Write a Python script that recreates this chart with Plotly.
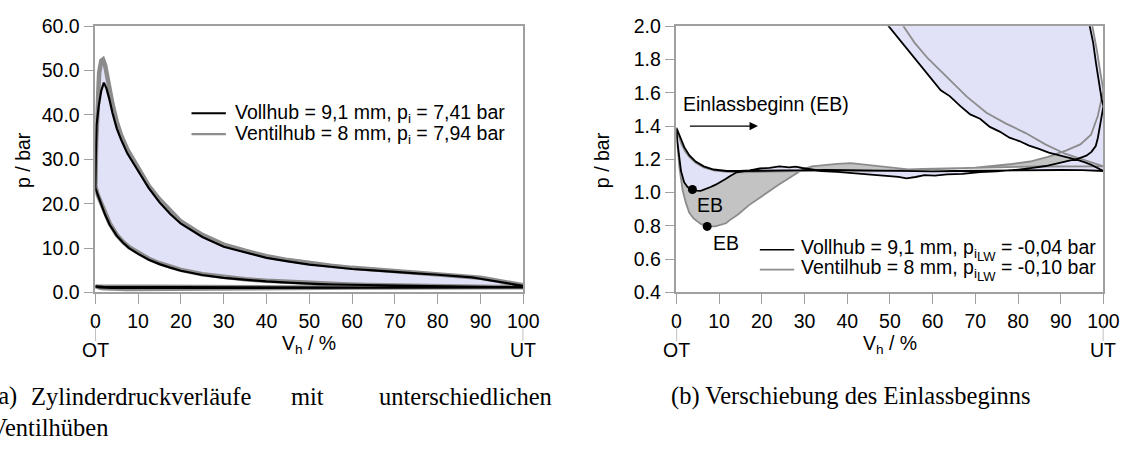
import plotly.graph_objects as go

# ---------------- cycle data (V_h in %, p in bar) ----------------
# Vollhub = 9,1 mm
voll_comp_v = [0, 0.5, 1.3, 2.3, 3.4, 5, 6.5, 7.9, 10, 12.5, 15, 17.5, 20, 25, 30, 35, 40, 45, 49.7,
               52.7, 55.8, 58.9, 61.9, 64, 66.5, 68.8, 71.1, 73.4, 75.7, 78, 80.3, 82.6, 84.9, 87.2,
               89.5, 91.8, 94.1, 95.7, 97.2, 98.6, 100]
voll_comp_p = [23.5, 21.8, 20.0, 17.5, 15.2, 12.8, 11.2, 10.0, 8.7, 7.4, 6.4, 5.6, 4.9, 3.95, 3.3, 2.85,
               2.5, 2.22, 2.0, 1.9, 1.806, 1.71, 1.615, 1.58, 1.52, 1.47, 1.444, 1.395, 1.367, 1.33,
               1.31, 1.283, 1.263, 1.24, 1.225, 1.21, 1.196, 1.182, 1.167, 1.15, 1.13]
voll_exp_v = [0, 0.1, 0.3, 0.8, 1.4, 2.0, 2.6, 3.3, 4.0, 5.0, 6.0, 7.5, 10, 12.5, 15, 17.5, 20, 25, 30,
              35, 40, 45, 50, 55, 60, 65, 70, 75, 80, 85, 88, 90, 92, 94, 95.5, 96.8, 97.6, 98.3,
              99.1, 99.6, 100]
voll_exp_p = [23.5, 30, 37.7, 42, 45.5, 47.3, 46.0, 43.5, 40.5, 37.0, 34.5, 31.3, 27.3, 23.5, 20.3,
              17.7, 15.5, 12.5, 10.3, 9.0, 7.8, 7.0, 6.3, 5.8, 5.3, 5.0, 4.6, 4.3, 4.0, 3.7, 3.4, 3.1,
              2.75, 2.4, 2.15, 2.0, 1.9, 1.77, 1.63, 1.56, 1.52]
voll_exh_v = [0, 0.3, 1.07, 1.84, 3.0, 4.5, 6.4, 8.7, 11.8, 14.9, 17.2, 19.5, 21.8, 24.1, 26.4, 27.9,
              29.5, 31, 34, 37.6, 40.5, 43, 45, 47.5, 49.7, 52, 53.9, 56, 58.1, 60.5, 63.4, 67, 71.1,
              75, 78.8, 83.4, 86.5, 89.5, 92, 94.1, 96, 97.2, 98.2, 98.7, 99.3, 99.6, 100]
voll_exh_p = [1.39, 1.377, 1.32, 1.273, 1.225, 1.187, 1.158, 1.139, 1.13, 1.13, 1.133, 1.145, 1.149,
              1.158, 1.152, 1.156, 1.148, 1.139, 1.13, 1.125, 1.12, 1.114, 1.11, 1.106, 1.10, 1.095,
              1.086, 1.094, 1.105, 1.102, 1.11, 1.113, 1.124, 1.128, 1.135, 1.149, 1.16, 1.177,
              1.192, 1.205, 1.222, 1.245, 1.28, 1.33, 1.40, 1.463, 1.52]
voll_int_v = [0, 0.2, 0.46, 0.75, 1.07, 1.8, 2.6, 3.75, 4.7, 5.7, 6.8, 8.0, 9.2, 10.3, 11.5, 12.6, 14.1,
              16, 18, 20, 25, 30, 35, 40, 45, 50, 55, 60, 65, 70, 75, 80, 85, 90, 95, 100]
voll_int_p = [1.387, 1.31, 1.244, 1.18, 1.13, 1.063, 1.034, 1.019, 1.012, 1.011, 1.02, 1.034, 1.048,
              1.063, 1.082, 1.10, 1.122, 1.13, 1.131, 1.132, 1.135, 1.138, 1.137, 1.135, 1.133, 1.13,
              1.128, 1.128, 1.13, 1.132, 1.133, 1.134, 1.135, 1.136, 1.135, 1.13]

# Ventilhub = 8 mm
vent_comp_v = [0, 0.5, 1.3, 2.3, 3.4, 5, 6.5, 7.9, 10, 12.5, 15, 17.5, 20, 25, 30, 35, 40, 45, 50,
               53.1, 55.8, 58.9, 63.4, 68.0, 72.6, 77.2, 81.8, 86.4, 91.0, 95.6, 100]
vent_comp_p = [24.0, 22.2, 20.3, 17.8, 15.5, 13.0, 11.4, 10.2, 8.9, 7.6, 6.6, 5.8, 5.1, 4.1, 3.45,
               2.98, 2.62, 2.35, 2.12, 2.0, 1.90, 1.806, 1.69, 1.577, 1.48, 1.415, 1.358, 1.29, 1.234,
               1.196, 1.158]
vent_exp_v = [0, 0.2, 0.5, 0.9, 1.4, 1.8, 2.3, 3.0, 4.0, 5.0, 6.0, 7.5, 10, 12.5, 15, 17.5, 20, 25,
              30, 35, 40, 45, 50, 55, 60, 65, 70, 75, 80, 85, 88, 90, 92, 94, 96, 97.5, 98.5, 99.3, 100]
vent_exp_p = [24.0, 34, 43, 49.5, 52.2, 52.5, 51.2, 47.5, 42.5, 38.5, 35.5, 32.2, 28.0, 24.0, 21.0,
              18.4, 16.0, 13.0, 10.8, 9.4, 8.2, 7.3, 6.6, 6.05, 5.55, 5.2, 4.85, 4.5, 4.2, 3.9, 3.6,
              3.3, 3.0, 2.6, 2.2, 2.0, 1.85, 1.72, 1.62]
vent_exh_v = [0, 0.5, 1.2, 2, 3, 4.5, 6.5, 9, 12, 15, 20, 25, 30, 35, 40, 45, 50, 55, 60, 65, 70,
              74.4, 78.6, 82.8, 87, 91.2, 94.6, 97.1, 98.7, 100]
vent_exh_p = [1.38, 1.34, 1.29, 1.25, 1.215, 1.18, 1.15, 1.132, 1.125, 1.122, 1.125, 1.128, 1.13,
              1.132, 1.13, 1.128, 1.13, 1.135, 1.14, 1.145, 1.15, 1.16, 1.172, 1.187, 1.215, 1.253,
              1.29, 1.348, 1.462, 1.614]
vent_int_v = [0, 0.7, 1.45, 2.2, 3.0, 4.0, 5.7, 7.2, 9.1, 11.6, 12.5, 14.5, 17, 19.5, 21.7, 24.1,
              26.5, 29.3, 31.7, 34.2, 37.6, 40.9, 44.3, 47.6, 51, 54.3, 57.7, 61.9, 66, 70, 75, 80,
              85, 90, 95, 100]
vent_int_p = [1.36, 1.15, 1.015, 0.94, 0.88, 0.845, 0.812, 0.797, 0.797, 0.816, 0.835, 0.87, 0.925,
              0.97, 1.01, 1.05, 1.09, 1.135, 1.158, 1.166, 1.173, 1.177, 1.168, 1.155, 1.147, 1.14,
              1.142, 1.145, 1.148, 1.15, 1.152, 1.155, 1.157, 1.158, 1.158, 1.158]

# Einlassbeginn (intake valve opening) points
eb_v = [3.75, 7.2]
eb_p = [1.019, 0.797]

# axis ticks
x_ticks = [0, 10, 20, 30, 40, 50, 60, 70, 80, 90, 100]
y_ticks_a = [0, 10, 20, 30, 40, 50, 60]
y_ticks_b = [0.4, 0.6, 0.8, 1.0, 1.2, 1.4, 1.6, 1.8, 2.0]

# ---------------- styling ----------------
W, H = 1142, 449
SANS = "Liberation Sans, Arial, sans-serif"
SERIF = "Liberation Serif, Times New Roman, serif"
LAV = "#e1e1f8"
GRAYFILL = "#c3c3c3"
GRAYLINE = "#8c8c8c"
AXCOL = "#a0a0a0"
FS = 19.5      # label text size

# plot frames in pixels
A_L, A_R = 92, 528
B_L, B_R = 684, 1119
P_T, P_B = 16, 296


def px_x(px):
    return px / W


def px_y(py):
    return (H - py) / H


def loop(v_a, p_a, v_b, p_b):
    """first branch run from 100 % back to 0 %, second branch from 0 % to 100 %"""
    return list(reversed(v_a)) + list(v_b), list(reversed(p_a)) + list(p_b)


fig = go.Figure()

panels = [("x", "y", 4.5, 2.2), ("x2", "y2", 1.8, 1.8)]
for xa, ya, gw, bw in panels:
    vp_v, vp_p = loop(vent_exh_v, vent_exh_p, vent_int_v, vent_int_p)
    bp_v, bp_p = loop(voll_exh_v, voll_exh_p, voll_int_v, voll_int_p)
    vh_v, vh_p = loop(vent_comp_v, vent_comp_p, vent_exp_v, vent_exp_p)
    bh_v, bh_p = loop(voll_comp_v, voll_comp_p, voll_exp_v, voll_exp_p)
    # gas exchange loops
    fig.add_trace(go.Scatter(x=vp_v, y=vp_p, xaxis=xa, yaxis=ya, mode="none", fill="toself",
                             fillcolor=GRAYFILL, showlegend=False, hoverinfo="skip"))
    fig.add_trace(go.Scatter(x=bp_v, y=bp_p, xaxis=xa, yaxis=ya, mode="none", fill="toself",
                             fillcolor=LAV, showlegend=False, hoverinfo="skip"))
    # high pressure loops
    fig.add_trace(go.Scatter(x=vh_v, y=vh_p, xaxis=xa, yaxis=ya, mode="none", fill="toself",
                             fillcolor=LAV, showlegend=False, hoverinfo="skip"))
    fig.add_trace(go.Scatter(x=bh_v, y=bh_p, xaxis=xa, yaxis=ya, mode="none", fill="toself",
                             fillcolor=LAV, showlegend=False, hoverinfo="skip"))
    # full cycle outlines
    for cv, cp, ev, ep, xv, xp, iv, ip, col, w in [
        (vent_comp_v, vent_comp_p, vent_exp_v, vent_exp_p, vent_exh_v, vent_exh_p,
         vent_int_v, vent_int_p, GRAYLINE, gw),
        (voll_comp_v, voll_comp_p, voll_exp_v, voll_exp_p, voll_exh_v, voll_exh_p,
         voll_int_v, voll_int_p, "black", bw),
    ]:
        hv, hp = loop(cv, cp, ev, ep)
        gv, gp = loop(xv, xp, iv, ip)
        fig.add_trace(go.Scatter(x=hv + gv, y=hp + gp, xaxis=xa, yaxis=ya, mode="lines",
                                 line=dict(color=col, width=w), showlegend=False,
                                 hoverinfo="skip"))

fig.add_trace(go.Scatter(x=eb_v, y=eb_p, xaxis="x2", yaxis="y2", mode="markers",
                         marker=dict(color="black", size=9), showlegend=False, hoverinfo="skip"))

axis_style = dict(showline=True, mirror=True, linecolor=AXCOL, linewidth=1.5, ticks="outside",
                  ticklen=10, tickcolor=AXCOL, tickwidth=1.3, showgrid=False, zeroline=False,
                  tickfont=dict(family=SANS, size=FS, color="black"))

ydom = [px_y(P_B), px_y(P_T)]
fig.update_layout(
    width=W, height=H, margin=dict(l=0, r=0, t=0, b=0),
    paper_bgcolor="white", plot_bgcolor="white",
    xaxis=dict(domain=[px_x(A_L), px_x(A_R)], range=[0, 100], tickvals=x_ticks, anchor="y",
               **axis_style),
    yaxis=dict(domain=ydom, range=[0, 60], tickvals=y_ticks_a, tickformat=".1f", anchor="x",
               **axis_style),
    xaxis2=dict(domain=[px_x(B_L), px_x(B_R)], range=[0, 100], tickvals=x_ticks, anchor="y2",
                **axis_style),
    yaxis2=dict(domain=ydom, range=[0.4, 2.0], tickvals=y_ticks_b, tickformat=".1f", anchor="x2",
                **axis_style),
)

ann = []
shapes = []


def text(x, y, s, size=FS, family=SANS, xanchor="center", yanchor="middle", xref="paper",
         yref="paper", angle=0):
    ann.append(dict(x=x, y=y, text=s, xref=xref, yref=yref, showarrow=False, xanchor=xanchor,
                    yanchor=yanchor, textangle=angle, borderpad=0,
                    font=dict(family=family, size=size, color="black")))


for xa in ["x", "x2"]:
    # OT / UT markers below the axis
    for xv, lab in [(0, "OT"), (100, "UT")]:
        shapes.append(dict(type="line", xref=xa, yref="paper", x0=xv, x1=xv, y0=px_y(347),
                           y1=px_y(330), line=dict(color=AXCOL, width=1.3)))
        text(xv, px_y(356), lab, xref=xa)
    text(50, px_y(351), "V<sub>h</sub> / %", xref=xa)

text(px_x(19), px_y(157), "p / bar", angle=-90)
text(px_x(608), px_y(157), "p / bar", angle=-90)

# legend (a)
for yy, col, lab in [(107.5, "black", "Vollhub = 9,1 mm, p<sub>i</sub> = 7,41 bar"),
                     (129.5, GRAYLINE, "Ventilhub = 8 mm, p<sub>i</sub> = 7,94 bar")]:
    shapes.append(dict(type="line", xref="paper", yref="paper", x0=px_x(190), x1=px_x(225),
                       y0=px_y(yy), y1=px_y(yy), line=dict(color=col, width=2.2)))
    text(px_x(233), px_y(yy), lab, xanchor="left")

# legend (b)
LW = "p<sub>i<sub><span style='font-size:13px'>LW</span></sub></sub>"
for yy, col, lab in [(251, "black", "Vollhub = 9,1 mm, " + LW + " = -0,04 bar"),
                     (272, GRAYLINE, "Ventilhub = 8 mm, " + LW + " = -0,10 bar")]:
    shapes.append(dict(type="line", xref="paper", yref="paper", x0=px_x(769), x1=px_x(804),
                       y0=px_y(yy), y1=px_y(yy), line=dict(color=col, width=1.6)))
    text(px_x(810), px_y(yy), lab, xanchor="left")

# Einlassbeginn annotations
text(1.4, 1.53, "Einlassbeginn (EB)", xref="x2", yref="y2", xanchor="left")
ann.append(dict(x=19.1, y=1.4, ax=2.8, ay=1.4, xref="x2", yref="y2", axref="x2", ayref="y2",
                showarrow=True, arrowhead=2, arrowsize=1.2, arrowwidth=1.4, arrowcolor="black",
                text=""))
text(7.8, 0.926, "EB", xref="x2", yref="y2")
text(11.7, 0.70, "EB", xref="x2", yref="y2")

# sub captions (first line of (a) is justified across its column)
CS = 24.5
text(px_x(-16), px_y(405), "(a)", CS, family=SERIF, xanchor="left")
text(px_x(25), px_y(405), "Zylinderdruckverläufe", CS, family=SERIF, xanchor="left")
text(px_x(308), px_y(405), "mit", CS, family=SERIF, xanchor="center")
text(px_x(558), px_y(405), "unterschiedlichen", CS, family=SERIF, xanchor="right")
text(px_x(-16), px_y(438), "Ventilhüben", CS, family=SERIF, xanchor="left")
text(px_x(862), px_y(405), "(b) Verschiebung des Einlassbeginns", CS, family=SERIF)

fig.update_layout(annotations=ann, shapes=shapes)
fig.write_html("out.html")
